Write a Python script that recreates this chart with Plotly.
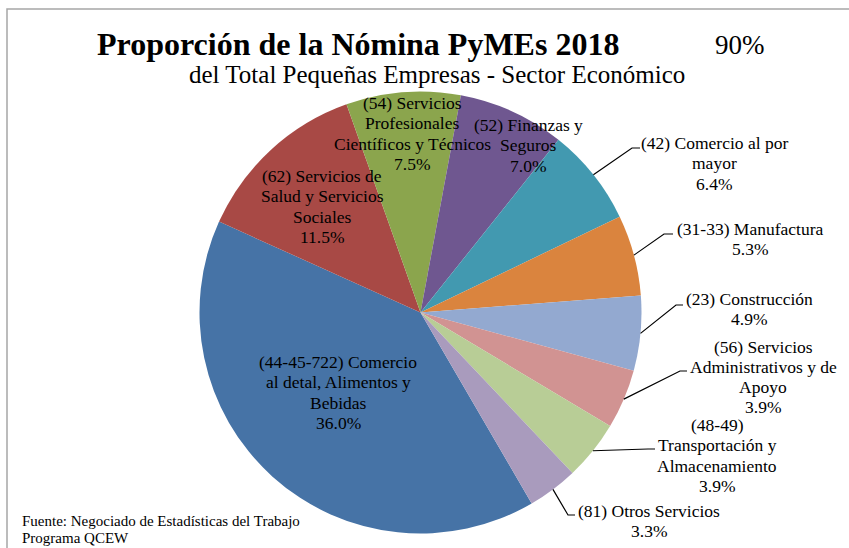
import math
import plotly.graph_objects as go

# ---------------- data ----------------
title_main = "Proporción de la Nómina PyMEs 2018"
title_sub = "del Total Pequeñas Empresas - Sector Económico"
total_label = "90%"
source_lines = ["Fuente: Negociado de Estadísticas del Trabajo", "Programa QCEW"]

sectors = [
    "(44-45-722) Comercio<br>al detal, Alimentos y<br>Bebidas",
    "(62) Servicios de<br>Salud y Servicios<br>Sociales",
    "(54) Servicios<br>Profesionales<br>Científicos y Técnicos",
    "(52) Finanzas y<br>Seguros",
    "(42) Comercio al por<br>mayor",
    "(31-33) Manufactura",
    "(23) Construcción",
    "(56) Servicios<br>Administrativos y de<br>Apoyo",
    "(48-49)<br>Transportación y<br>Almacenamiento",
    "(81) Otros Servicios",
]
shares = [36.0, 11.5, 7.5, 7.0, 6.4, 5.3, 4.9, 3.9, 3.9, 3.3]

# ---------------- styles / layout ----------------
colors = ["#4673A6", "#A84945", "#8BA54D", "#6F5790", "#4299B0",
          "#DA843E", "#93A9D0", "#D19392", "#B8CD96", "#A99BBD"]
W, H = 849, 548
CX, CY, R = 420.5, 312.5, 221.0
ROT = 149.8
FONT = "Liberation Serif"
LABEL_SIZE = 17.5
LINE_STEP = 20.3

# label anchor: (centre x, first line centre y) in pixels
label_pos = [(338, 362), (322, 176), (412, 103), (528, 125), (714, 143),
             (750, 229), (749, 299), (763, 346.5), (717, 425), (649, 511)]
# leader line elbows / ends (pixels) for outside labels
leaders = {
    4: ((632, 148), (640, 148)),
    5: ((664, 234), (673, 234)),
    6: ((676, 305), (683, 305)),
    7: ((680, 371), (687, 371)),
    8: ((648, 449), (655, 449)),
    9: ((568, 515), (575, 515)),
}


def px(x):
    return x / W


def py(y):
    return 1 - y / H


def text_at(x, y, txt, size, anchor="center", bold=False):
    return dict(x=px(x), y=py(y), xref="paper", yref="paper",
                text=f"<b>{txt}</b>" if bold else txt, showarrow=False,
                xanchor=anchor, yanchor="middle", align=anchor,
                font=dict(family=FONT, size=size, color="#000000"))


fig = go.Figure(go.Pie(
    labels=sectors,
    values=shares,
    sort=False,
    direction="clockwise",
    rotation=ROT,
    marker=dict(colors=colors, line=dict(width=0)),
    textinfo="none",
    hoverinfo="label+value",
    showlegend=False,
    domain=dict(x=[px(CX - R), px(CX + R)], y=[py(CY + R), py(CY - R)]),
))

annotations = []
shapes = []

total = sum(shares)
start = ROT
for i, (name, v) in enumerate(zip(sectors, shares)):
    ang = v / total * 360.0
    mid = math.radians(start + ang / 2)
    start += ang
    lx, ly = label_pos[i]
    lines = name.split("<br>") + [f"{v:.1f}%"]
    for k, line in enumerate(lines):
        annotations.append(text_at(lx, ly + k * LINE_STEP, line, LABEL_SIZE))
    if i in leaders:
        rx = CX + R * math.sin(mid)
        ry = CY - R * math.cos(mid)
        (ex, ey), (tx, ty) = leaders[i]
        path = (f"M {px(rx)},{py(ry)} L {px(ex)},{py(ey)} "
                f"L {px(tx)},{py(ty)}")
        shapes.append(dict(type="path", xref="paper", yref="paper", path=path,
                           line=dict(color="#000000", width=1.2)))

annotations += [
    text_at(357.5, 44, title_main, 32, bold=True),
    text_at(740, 45, total_label, 27),
    text_at(436.5, 74, title_sub, 25),
    text_at(20, 521, source_lines[0], 15, anchor="left"),
    text_at(20, 538, source_lines[1], 15, anchor="left"),
]

# chart frame
shapes.append(dict(type="rect", xref="paper", yref="paper",
                   x0=px(7), y0=py(560), x1=px(870), y1=py(9),
                   line=dict(color="#A6A6A6", width=1.5), fillcolor="rgba(0,0,0,0)",
                   layer="below"))

fig.update_layout(
    width=W, height=H,
    margin=dict(l=0, r=0, t=0, b=0),
    paper_bgcolor="#FFFFFF",
    plot_bgcolor="#FFFFFF",
    annotations=annotations,
    shapes=shapes,
)

fig.write_html("out.html", config={"displayModeBar": False},
               post_script="document.body.style.margin='0px';")
